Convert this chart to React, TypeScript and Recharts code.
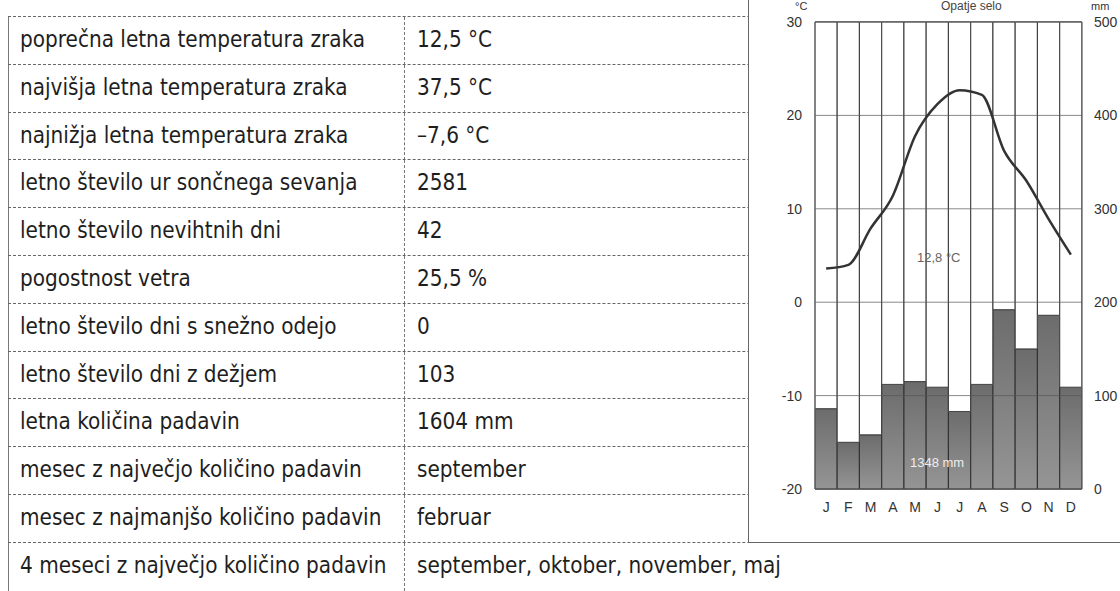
import { ComposedChart, Bar, Line, XAxis, YAxis, CartesianGrid, ReferenceLine } from 'recharts';

const months = ['J', 'F', 'M', 'A', 'M', 'J', 'J', 'A', 'S', 'O', 'N', 'D'];
const temperature = [3.6, 4.0, 7.9, 11.4, 17.8, 21.2, 22.7, 22.2, 16.2, 13.0, 8.9, 5.1];
const precipitation = [86, 50, 58, 112, 115, 109, 83, 112, 192, 150, 186, 109];
const tempTicks = [-20, -10, 0, 10, 20, 30];
const precipTicks = [0, 100, 200, 300, 400, 500];
const precipMax = 500;

const tableLabels = [
  'poprečna letna temperatura zraka',
  'najvišja letna temperatura zraka',
  'najnižja letna temperatura zraka',
  'letno število ur sončnega sevanja',
  'letno število nevihtnih dni',
  'pogostnost vetra',
  'letno število dni s snežno odejo',
  'letno število dni z dežjem',
  'letna količina padavin',
  'mesec z največjo količino padavin',
  'mesec z najmanjšo količino padavin',
  '4 meseci z največjo količino padavin',
];
const tableValues = [
  '12,5 °C',
  '37,5 °C',
  '–7,6 °C',
  '2581',
  '42',
  '25,5 %',
  '0',
  '103',
  '1604 mm',
  'september',
  'februar',
  'september, oktober, november, maj',
];

const data = months.map((m, i) => ({
  idx: i,
  month: m,
  temp: temperature[i],
  rain: precipitation[i],
  rest: precipMax - precipitation[i],
}));

const ROW_H = 47.8;
const TOP = 16;
const tableFont = '"DejaVu Sans Condensed", "Liberation Sans Narrow", "Noto Sans", sans-serif';
const axisFont = 'Liberation Sans, Arial, sans-serif';

const cellText = {
  position: 'absolute' as const,
  top: 0,
  lineHeight: `${ROW_H - 2}px`,
  fontSize: 23,
  color: '#1e1e1e',
  whiteSpace: 'nowrap' as const,
  transform: 'scaleX(0.97)',
  transformOrigin: 'left center',
};

const ClimateChart = () => (
  <ComposedChart
    width={372}
    height={543}
    data={data}
    margin={{ top: 22, right: 0, bottom: 22, left: 0 }}
    barCategoryGap={0}
    barGap={0}
  >
    <defs>
      <linearGradient id="rainFill" x1="0" y1="0" x2="0" y2="1">
        <stop offset="0%" stopColor="#6c6c6c" />
        <stop offset="100%" stopColor="#959595" />
      </linearGradient>
    </defs>
    <CartesianGrid vertical={false} stroke="#555" yAxisId="t" />
    <XAxis
      dataKey="idx"
      xAxisId="x"
      tickFormatter={(v: number) => months[v]}
      axisLine={false}
      tickLine={false}
      tick={{ fill: '#333', fontSize: 14, fontFamily: axisFont, dy: 5 }}
      height={32}
      interval={0}
    />
    <YAxis
      yAxisId="t"
      orientation="left"
      domain={[-20, 30]}
      ticks={tempTicks}
      width={67}
      axisLine={{ stroke: '#666' }}
      tickLine={false}
      tickMargin={7}
      tick={{ fill: '#333', fontSize: 14, fontFamily: axisFont }}
    />
    <YAxis
      yAxisId="p"
      orientation="right"
      domain={[0, precipMax]}
      ticks={precipTicks}
      width={38}
      axisLine={{ stroke: '#666' }}
      tickLine={false}
      tickMargin={6}
      tick={{ fill: '#333', fontSize: 14, fontFamily: axisFont, textAnchor: 'start' }}
    />
    <Bar
      dataKey="rain"
      stackId="s"
      xAxisId="x"
      yAxisId="p"
      fill="url(#rainFill)"
      stroke="#333"
      strokeWidth={1}
      isAnimationActive={false}
    />
    <Bar
      dataKey="rest"
      stackId="s"
      xAxisId="x"
      yAxisId="p"
      fill="#fff"
      stroke="#444"
      strokeWidth={1}
      isAnimationActive={false}
    />
    {tempTicks.map((t) => (
      <ReferenceLine key={t} y={t} yAxisId="t" xAxisId="x" stroke="#555" strokeOpacity={0.7} />
    ))}
    <Line
      dataKey="temp"
      xAxisId="x"
      yAxisId="t"
      type="monotone"
      stroke="#333"
      strokeWidth={2.5}
      dot={false}
      isAnimationActive={false}
    />
  </ComposedChart>
);

export default function App() {
  return (
    <div
      style={{
        position: 'absolute',
        left: 0,
        top: 0,
        width: 1120,
        height: 591,
        background: '#fff',
        overflow: 'hidden',
        fontFamily: tableFont,
      }}
    >
      {tableLabels.map((label, i) => (
        <div
          key={label}
          style={{
            position: 'absolute',
            left: 8,
            top: TOP + i * ROW_H,
            width: 1112,
            height: ROW_H,
            borderTop: '1px dashed #666',
            boxSizing: 'border-box',
          }}
        >
          <div
            style={{
              position: 'absolute',
              left: 0,
              top: 0,
              width: 397,
              height: ROW_H,
              borderLeft: '1px solid #777',
              borderRight: '1px dashed #777',
              boxSizing: 'border-box',
            }}
          />
          <div style={{ ...cellText, left: 12 }}>{label}</div>
          <div style={{ ...cellText, left: 409 }}>{tableValues[i]}</div>
        </div>
      ))}
      <div
        style={{
          position: 'absolute',
          left: 748,
          top: 0,
          width: 372,
          height: 543,
          background: '#fff',
          borderLeft: '1px solid #666',
          borderBottom: '1px solid #666',
          boxSizing: 'border-box',
        }}
      >
        <div style={{ position: 'absolute', left: -1, top: 0 }}>
          <ClimateChart />
        </div>
        <div style={{ position: 'absolute', left: 46, top: 0, fontSize: 11, lineHeight: '12px', fontFamily: axisFont, color: '#333' }}>°C</div>
        <div style={{ position: 'absolute', left: 192, top: 0, fontSize: 12, lineHeight: '13px', fontFamily: axisFont, color: '#444' }}>Opatje selo</div>
        <div style={{ position: 'absolute', left: 342, top: 0, fontSize: 11, lineHeight: '12px', fontFamily: axisFont, color: '#333' }}>mm</div>
        <div style={{ position: 'absolute', left: 168, top: 250, fontSize: 13, fontFamily: axisFont, color: '#666' }}>12,8 °C</div>
        <div style={{ position: 'absolute', left: 161, top: 455, fontSize: 13, fontFamily: axisFont, color: '#eee' }}>1348 mm</div>
      </div>
    </div>
  );
}
